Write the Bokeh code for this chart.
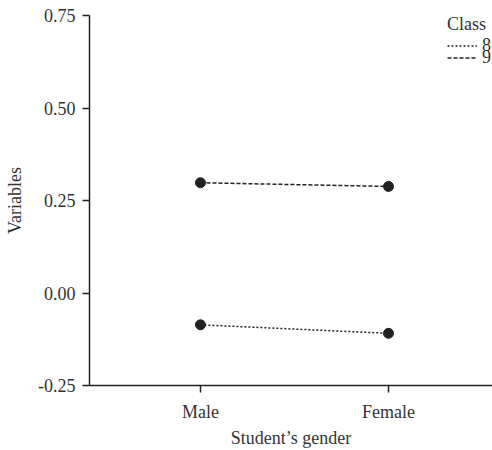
from bokeh.plotting import figure
from bokeh.models import Range1d, FixedTicker, Legend, LegendItem, NumeralTickFormatter
from bokeh.embed import file_html
from bokeh.resources import INLINE

genders = ["Male", "Female"]
class8 = [-0.086, -0.109]
class9 = [0.298, 0.288]
y_ticks = [-0.25, 0.0, 0.25, 0.5, 0.75]

FONT = "'Liberation Serif', 'Times New Roman', serif"
FS = "18px"
TXT = "#333333"
INK = "#222222"

xs = list(range(1, len(genders) + 1))

p = figure(width=492, height=450, output_backend="svg", toolbar_location=None,
           x_range=Range1d(0.41, 2.553), y_range=Range1d(-0.25, 0.75),
           min_border_left=89, min_border_top=15, min_border_bottom=65, min_border_right=0)
p.outline_line_color = None
p.xgrid.visible = False
p.ygrid.visible = False
p.background_fill_color = "white"
p.border_fill_color = "white"

r8 = p.line(xs, class8, line_dash="2 2", line_width=1.5, line_color=INK)
r9 = p.line(xs, class9, line_dash="4 2", line_width=1.5, line_color=INK)
p.scatter(xs, class8, size=10, color=INK)
p.scatter(xs, class9, size=10, color=INK)

p.xaxis.ticker = FixedTicker(ticks=xs)
p.xaxis.major_label_overrides = {x: g for x, g in zip(xs, genders)}
p.yaxis.ticker = FixedTicker(ticks=y_ticks)
p.yaxis.formatter = NumeralTickFormatter(format="0.00")

for ax in (p.xaxis[0], p.yaxis[0]):
    ax.axis_line_color = INK
    ax.axis_line_width = 1.5
    ax.major_tick_line_color = INK
    ax.major_tick_line_width = 1.5
    ax.major_tick_out = 7
    ax.major_tick_in = 0
    ax.minor_tick_out = 0
    ax.minor_tick_in = 0
    ax.major_label_text_font = FONT
    ax.major_label_text_font_size = FS
    ax.major_label_text_color = TXT
    ax.axis_label_text_font = FONT
    ax.axis_label_text_font_size = FS
    ax.axis_label_text_font_style = "normal"
    ax.axis_label_text_color = TXT

p.xaxis.axis_label = "Student\u2019s gender"
p.yaxis.axis_label = "Variables"
p.xaxis.major_label_standoff = 9
p.xaxis.axis_label_standoff = 3
p.yaxis.major_label_standoff = 7
p.yaxis.axis_label_standoff = 10

common = dict(padding=0, margin=0, spacing=0, border_line_color=None, background_fill_alpha=0,
              glyph_width=30, glyph_height=11, label_height=11, label_standoff=5,
              label_text_font=FONT, label_text_font_size=FS, label_text_color=TXT)
legend_a = Legend(items=[LegendItem(label="8", renderers=[r8])],
                  title="Class", location=(358, 329),
                  title_text_font=FONT, title_text_font_size=FS, title_text_font_style="normal",
                  title_text_color=TXT, title_standoff=0, **common)
legend_b = Legend(items=[LegendItem(label="9", renderers=[r9])], location=(358, 317), **common)
p.add_layout(legend_a)
p.add_layout(legend_b)

open("out.html", "w").write(file_html(p, INLINE))
